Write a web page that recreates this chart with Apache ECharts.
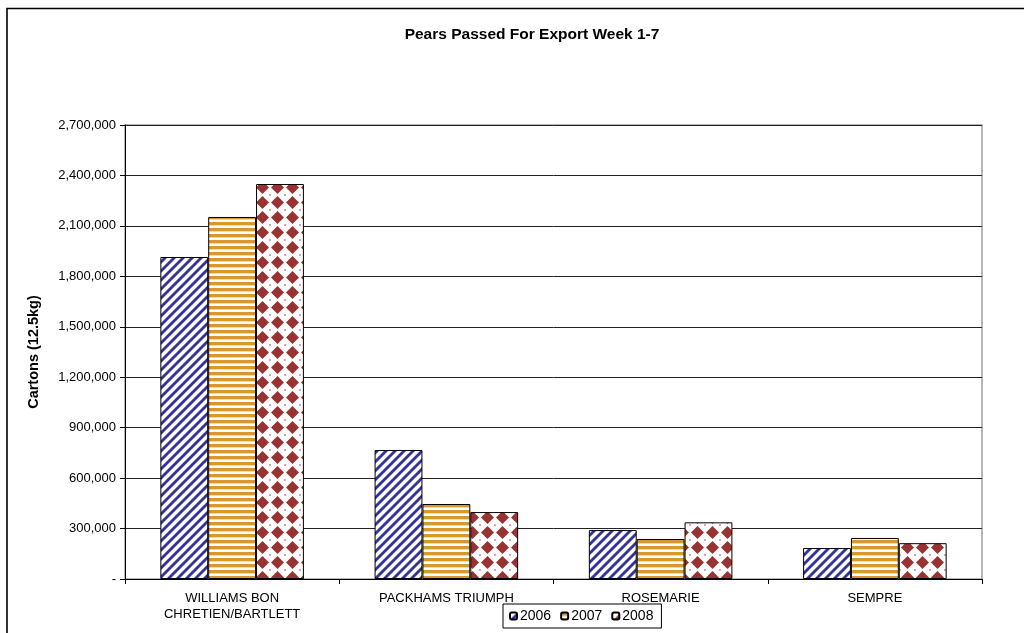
<!DOCTYPE html>
<html>
<head>
<meta charset="utf-8">
<script src="https://cdn.jsdelivr.net/npm/echarts@6/dist/echarts.min.js"></script>
<style>
html,body{margin:0;padding:0;background:#fff;}
#chart{width:1024px;height:633px;}
</style>
</head>
<body>
<div id="chart"></div>
<script>
const categories = ['WILLIAMS BON\nCHRETIEN/BARTLETT', 'PACKHAMS TRIUMPH', 'ROSEMARIE', 'SEMPRE'];
const seriesNames = ['2006', '2007', '2008'];
const values2006 = [1915000, 767000, 291000, 184000];
const values2007 = [2153000, 446000, 238000, 244000];
const values2008 = [2349000, 398000, 337000, 213000];
const yTicks = { min: 0, max: 2700000, interval: 300000 };

function diagPattern() {
  const c = document.createElement('canvas');
  c.width = 9; c.height = 9;
  const g = c.getContext('2d');
  g.fillStyle = '#fff'; g.fillRect(0, 0, 9, 9);
  g.strokeStyle = '#333399'; g.lineWidth = 2.8;
  [[-9, 9, 9, -9], [0, 9, 9, 0], [0, 18, 18, 0]].forEach(function (l) {
    g.beginPath(); g.moveTo(l[0], l[1]); g.lineTo(l[2], l[3]); g.stroke();
  });
  return c;
}
function hstripePattern() {
  const c = document.createElement('canvas');
  c.width = 4; c.height = 6;
  const g = c.getContext('2d');
  g.fillStyle = '#fff'; g.fillRect(0, 0, 4, 6);
  g.fillStyle = '#D49B2C'; g.fillRect(0, 0, 4, 3);
  g.fillStyle = '#EED9A8'; g.fillRect(0, 3, 4, 1);
  return c;
}
function diamondPattern() {
  const c = document.createElement('canvas');
  c.width = 15; c.height = 15;
  const g = c.getContext('2d');
  g.fillStyle = '#fff'; g.fillRect(0, 0, 15, 15);
  g.fillStyle = '#993333';
  g.beginPath();
  g.moveTo(7.5, 1); g.lineTo(14, 7.5); g.lineTo(7.5, 14); g.lineTo(1, 7.5);
  g.closePath(); g.fill();
  g.fillStyle = '#D9A8A8';
  [[0,0],[15,0],[0,15],[15,15]].forEach(function(p){ g.fillRect(p[0]-1, p[1]-1, 2, 2); });
  return c;
}
const patterns = [diagPattern(), hstripePattern(), diamondPattern()];
const allValues = [values2006, values2007, values2008];

const chart = echarts.init(document.getElementById('chart'));
const font = "'Liberation Sans', Arial, sans-serif";

chart.setOption({
  animation: false,
  backgroundColor: '#fff',
  title: {
    text: 'Pears Passed For Export Week 1-7',
    left: 527, top: 22, textAlign: 'center',
    textStyle: { fontFamily: font, fontSize: 15.5, fontWeight: 'bold', color: '#000' }
  },
  graphic: [{
    type: 'rect', silent: true,
    shape: { x: 7, y: 8.5, width: 1040, height: 640 },
    style: { fill: 'none', stroke: '#000', lineWidth: 1.6 }
  }],
  legend: {
    data: seriesNames,
    left: 503, top: 604,
    itemWidth: 7, itemHeight: 7, itemGap: 9,
    padding: [5, 8, 5, 6],
    borderColor: '#000', borderWidth: 1,
    textStyle: { fontFamily: font, fontSize: 14, color: '#000', padding: [0, 0, 0, -2] }
  },
  grid: {
    left: 125, top: 125, right: 42, bottom: 54,
    show: true, borderColor: '#a0a0a0', borderWidth: 1.5
  },
  xAxis: {
    type: 'category',
    data: categories,
    axisLine: { lineStyle: { color: '#000', width: 1 } },
    axisTick: { show: true, length: 5, lineStyle: { color: '#000' } },
    axisLabel: { fontFamily: font, fontSize: 13, color: '#000', margin: 11, lineHeight: 16, interval: 0 }
  },
  yAxis: {
    type: 'value',
    min: yTicks.min, max: yTicks.max, interval: yTicks.interval,
    name: 'Cartons (12.5kg)',
    nameLocation: 'middle', nameGap: 84,
    nameTextStyle: { fontFamily: font, fontSize: 14.5, fontWeight: 'bold', color: '#000' },
    axisLine: { show: true, lineStyle: { color: '#000', width: 1 } },
    axisTick: { show: true, length: 5, lineStyle: { color: '#000' } },
    splitLine: { lineStyle: { color: '#222', width: 1 } },
    axisLabel: {
      fontFamily: font, fontSize: 13, color: '#000', margin: 9,
      formatter: function (v) { return v === 0 ? '-' : v.toLocaleString('en-US'); }
    }
  },
  series: seriesNames.map(function (name, i) {
    return {
      name: name,
      type: 'bar',
      data: allValues[i],
      barGap: '0%',
      barCategoryGap: '33%',
      itemStyle: {
        color: { image: patterns[i], repeat: 'repeat' },
        borderColor: '#000', borderWidth: 1
      }
    };
  })
});
</script>
</body>
</html>
